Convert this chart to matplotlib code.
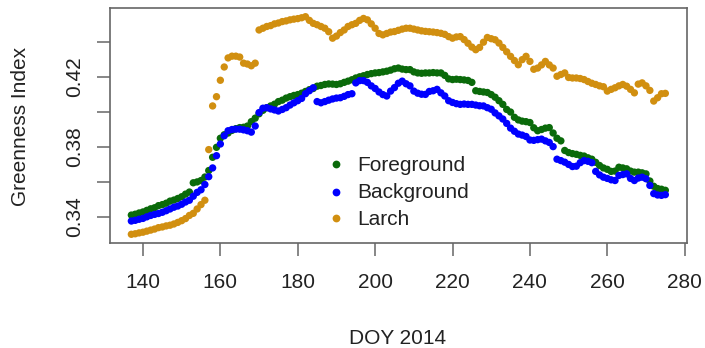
import numpy as np
import matplotlib
matplotlib.use("Agg")
import matplotlib.pyplot as plt
from matplotlib.lines import Line2D

plt.rcParams['font.family'] = ['Liberation Sans', 'DejaVu Sans']

# Day of year 2014
doy = list(range(137, 276))

foreground = [
    0.3410, 0.3415, 0.3422, 0.3428, 0.3437, 0.3446, 0.3452, 0.3464, 0.3470, 0.3478,
    0.3490, 0.3496, 0.3505, 0.3515, 0.3530, 0.3542, 0.3595, 0.3600, 0.3608, 0.3628,
    0.3665, 0.3741, 0.3798, 0.3850, 0.3870, 0.3880, 0.3895, 0.3905, 0.3911, 0.3913,
    0.3920, 0.3945, 0.3965, 0.3990, 0.4010, 0.4025, 0.4035, 0.4045, 0.4060, 0.4068,
    0.4080, 0.4088, 0.4095, 0.4100, 0.4108, 0.4118, 0.4128, 0.4135, 0.4148, 0.4152,
    0.4158, 0.4161, 0.4160, 0.4158, 0.4162, 0.4170, 0.4177, 0.4185, 0.4195, 0.4202,
    0.4208, 0.4215, 0.4220, 0.4224, 0.4226, 0.4230, 0.4234, 0.4240, 0.4248, 0.4252,
    0.4246, 0.4243, 0.4243, 0.4230, 0.4224, 0.4222, 0.4224, 0.4224, 0.4226, 0.4224,
    0.4224, 0.4210, 0.4190, 0.4186, 0.4188, 0.4186, 0.4184, 0.4181, 0.4170, 0.4122,
    0.4118, 0.4115, 0.4112, 0.4100, 0.4085, 0.4065, 0.4044, 0.4015, 0.4000, 0.3970,
    0.3955, 0.3948, 0.3945, 0.3940, 0.3910, 0.3893, 0.3900, 0.3908, 0.3911, 0.3880,
    0.3850, 0.3835, 0.3780, 0.3768, 0.3762, 0.3758, 0.3752, 0.3748, 0.3738, 0.3730,
    0.3712, 0.3694, 0.3680, 0.3672, 0.3660, 0.3662, 0.3684, 0.3680, 0.3675, 0.3662,
    0.3656, 0.3656, 0.3652, 0.3646, 0.3605, 0.3575, 0.3562, 0.3558, 0.3552,
]

background = [
    0.3376, 0.3380, 0.3386, 0.3391, 0.3400, 0.3408, 0.3414, 0.3419, 0.3426, 0.3435,
    0.3445, 0.3455, 0.3462, 0.3472, 0.3485, 0.3495, 0.3518, 0.3540, 0.3555, 0.3585,
    0.3630, 0.3680, 0.3750, 0.3817, 0.3864, 0.3893, 0.3900, 0.3902, 0.3902, 0.3898,
    0.3893, 0.3885, 0.3920, 0.3997, 0.4022, 0.4025, 0.4018, 0.4012, 0.4006, 0.4015,
    0.4025, 0.4040, 0.4053, 0.4065, 0.4078, 0.4105, 0.4122, 0.4139, 0.4060, 0.4053,
    0.4060, 0.4068, 0.4075, 0.4080, 0.4082, 0.4090, 0.4100, 0.4105, 0.4167, 0.4180,
    0.4180, 0.4170, 0.4150, 0.4135, 0.4115, 0.4100, 0.4092, 0.4120, 0.4140, 0.4165,
    0.4177, 0.4162, 0.4150, 0.4120, 0.4108, 0.4102, 0.4101, 0.4118, 0.4122, 0.4130,
    0.4110, 0.4092, 0.4065, 0.4055, 0.4048, 0.4044, 0.4046, 0.4044, 0.4044, 0.4040,
    0.4036, 0.4035, 0.4025, 0.4016, 0.3995, 0.3978, 0.3960, 0.3935, 0.3908, 0.3890,
    0.3874, 0.3868, 0.3860, 0.3840, 0.3838, 0.3842, 0.3845, 0.3835, 0.3826, 0.3802,
    0.3730, 0.3722, 0.3713, 0.3700, 0.3688, 0.3690, 0.3710, 0.3722, 0.3718, 0.3710,
    0.3660, 0.3640, 0.3627, 0.3620, 0.3612, 0.3608, 0.3637, 0.3642, 0.3646, 0.3620,
    0.3608, 0.3622, 0.3627, 0.3618, 0.3580, 0.3533, 0.3525, 0.3523, 0.3527,
]

larch = [
    0.3300, 0.3303, 0.3308, 0.3312, 0.3318, 0.3324, 0.3330, 0.3338, 0.3342, 0.3348,
    0.3352, 0.3359, 0.3368, 0.3378, 0.3390, 0.3408, 0.3420, 0.3445, 0.3470, 0.3495,
    0.3785, 0.4035, 0.4088, 0.4182, 0.4258, 0.4310, 0.4320, 0.4320, 0.4315, 0.4280,
    0.4275, 0.4265, 0.4280, 0.4470, 0.4480, 0.4490, 0.4495, 0.4505, 0.4510, 0.4518,
    0.4522, 0.4528, 0.4532, 0.4535, 0.4540, 0.4546, 0.4525, 0.4508, 0.4500, 0.4490,
    0.4480, 0.4460, 0.4423, 0.4435, 0.4455, 0.4470, 0.4490, 0.4500, 0.4508, 0.4525,
    0.4536, 0.4528, 0.4505, 0.4480, 0.4450, 0.4442, 0.4450, 0.4458, 0.4461, 0.4468,
    0.4475, 0.4480, 0.4480, 0.4475, 0.4470, 0.4465, 0.4462, 0.4460, 0.4458, 0.4455,
    0.4451, 0.4445, 0.4432, 0.4423, 0.4430, 0.4432, 0.4415, 0.4394, 0.4372, 0.4357,
    0.4370, 0.4400, 0.4427, 0.4420, 0.4414, 0.4395, 0.4370, 0.4345, 0.4319, 0.4295,
    0.4271, 0.4300, 0.4319, 0.4290, 0.4245, 0.4252, 0.4270, 0.4290, 0.4270, 0.4252,
    0.4205, 0.4215, 0.4224, 0.4198, 0.4195, 0.4195, 0.4192, 0.4186, 0.4175, 0.4165,
    0.4158, 0.4150, 0.4145, 0.4120, 0.4130, 0.4139, 0.4150, 0.4158, 0.4148, 0.4130,
    0.4110, 0.4160, 0.4167, 0.4150, 0.4124, 0.4063, 0.4082, 0.4105, 0.4107,
]

series_names = ["Foreground", "Background", "Larch"]
series_colors = ["#0a6a0a", "#0000ff", "#d18f10"]

x_ticks = [140, 160, 180, 200, 220, 240, 260, 280]
y_ticks = [0.34, 0.36, 0.38, 0.40, 0.42, 0.44]
y_tick_labels = ["0.34", "", "0.38", "", "0.42", ""]

text_color = "#222222"
frame_color = "#666666"
fs = 15
W, H = 705, 348

fig = plt.figure(figsize=(W / 100, H / 100), dpi=100)
ax = fig.add_axes([110 / W, 105 / H, 576.7 / W, 235 / H])

for vals, col in zip([foreground, background, larch], series_colors):
    ax.scatter(doy, vals, s=28, color=col, edgecolors="none", zorder=3)

# axis ranges padded by 4% on each side
all_vals = np.concatenate([foreground, background, larch])
xr = max(doy) - min(doy)
yr = all_vals.max() - all_vals.min()
ax.set_xlim(min(doy) - 0.04 * xr, max(doy) + 0.04 * xr)
ax.set_ylim(all_vals.min() - 0.04 * yr, all_vals.max() + 0.04 * yr)

ax.set_xticks(x_ticks)
ax.set_xticklabels([str(t) for t in x_ticks])
ax.set_yticks(y_ticks)
ax.set_yticklabels(y_tick_labels, rotation=90, va="center")

for sp in ax.spines.values():
    sp.set_color(frame_color)
    sp.set_linewidth(1.2)

ax.tick_params(axis="both", direction="out", length=9.5, width=1.1,
               color=frame_color, labelcolor=text_color, labelsize=fs)
ax.tick_params(axis="x", pad=12)
ax.tick_params(axis="y", pad=9)

fig.text(21 / W, 1 - 126 / H, "Greenness Index", rotation=90,
         ha="center", va="center", fontsize=fs, color=text_color)
fig.text(398 / W, 1 - 344 / H, "DOY 2014", ha="center", va="baseline",
         fontsize=fs, color=text_color)

# frameless key: dot followed by series name, one row per series
key_rows_y = [164.3, 191.7, 218.3]
for name, col, ry in zip(series_names, series_colors, key_rows_y):
    fig.add_artist(Line2D([336 / W], [1 - ry / H], transform=fig.transFigure,
                          marker="o", markersize=5.6, markeredgewidth=0,
                          color=col, linestyle="none"))
    fig.text(357 / W, 1 - (ry + 1.0) / H, name, ha="left", va="center",
             fontsize=fs, color=text_color)

fig.savefig("out.png", dpi=100)
